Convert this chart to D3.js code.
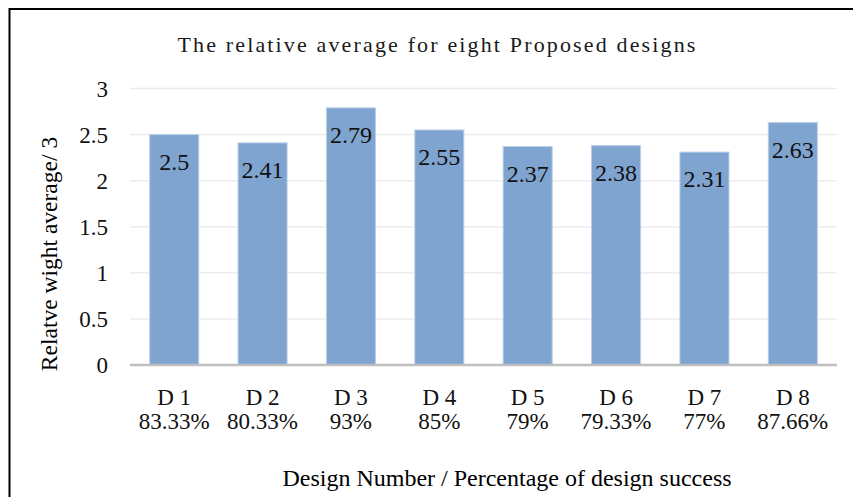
<!DOCTYPE html>
<html>
<head>
<meta charset="utf-8">
<script src="https://cdn.jsdelivr.net/npm/d3@7"></script>
<style>
  html, body { margin: 0; padding: 0; background: #fff; }
  svg { display: block; font-family: "Liberation Serif", "Times New Roman", serif; }
</style>
</head>
<body>
<svg id="chart"></svg>
<script>
const designs = ["D 1", "D 2", "D 3", "D 4", "D 5", "D 6", "D 7", "D 8"];
const successRates = ["83.33%", "80.33%", "93%", "85%", "79%", "79.33%", "77%", "87.66%"];
const averages = [2.5, 2.41, 2.79, 2.55, 2.37, 2.38, 2.31, 2.63];
const yTicks = [0, 0.5, 1, 1.5, 2, 2.5, 3];

const width = 853, height = 497;
const plotLeft = 130, plotRight = 837, plotTop = 88.5, plotBottom = 365;

const svg = d3.select("#chart").attr("width", width).attr("height", height);

// outer frame, cut off at right and bottom like the picture
svg.append("rect")
    .attr("x", 9.5).attr("y", 9)
    .attr("width", 900).attr("height", 600)
    .attr("fill", "none")
    .attr("stroke", "#000")
    .attr("stroke-width", 2);

const x = d3.scaleBand()
    .domain(designs)
    .range([plotLeft, plotRight])
    .paddingInner(0.445)
    .paddingOuter(0.2225);

const y = d3.scaleLinear().domain([0, 3]).range([plotBottom, plotTop]);

// grid lines
svg.append("g")
    .selectAll("line")
    .data(yTicks.filter(d => d > 0))
    .join("line")
    .attr("x1", plotLeft).attr("x2", plotRight)
    .attr("y1", d => y(d)).attr("y2", d => y(d))
    .attr("stroke", "#ececec")
    .attr("stroke-width", 1.5);

// y tick labels
svg.append("g")
    .selectAll("text")
    .data(yTicks)
    .join("text")
    .attr("x", 108)
    .attr("y", d => y(d))
    .attr("dy", "0.35em")
    .attr("text-anchor", "end")
    .attr("font-size", 23)
    .attr("fill", "#111")
    .text(d => d3.format("~g")(d));

// bars
svg.append("g")
    .selectAll("rect")
    .data(averages)
    .join("rect")
    .attr("x", (d, i) => x(designs[i]))
    .attr("y", d => y(d))
    .attr("width", x.bandwidth())
    .attr("height", d => y(0) - y(d))
    .attr("fill", "#7fa4d0")
    .attr("stroke", "#b9cfe8")
    .attr("stroke-width", 1);

// value labels inside the bar top
svg.append("g")
    .selectAll("text")
    .data(averages)
    .join("text")
    .attr("x", (d, i) => x(designs[i]) + x.bandwidth() / 2)
    .attr("y", d => y(d) + 35)
    .attr("text-anchor", "middle")
    .attr("font-size", 24)
    .attr("fill", "#111")
    .text(d => d);

// baseline
svg.append("line")
    .attr("x1", plotLeft).attr("x2", plotRight)
    .attr("y1", y(0)).attr("y2", y(0))
    .attr("stroke", "#bfbfbf")
    .attr("stroke-width", 2.5);

// category labels, two lines each
const cats = svg.append("g")
    .selectAll("text")
    .data(designs)
    .join("text")
    .attr("text-anchor", "middle")
    .attr("font-size", 23)
    .attr("fill", "#111");

cats.append("tspan")
    .attr("x", d => x(d) + x.bandwidth() / 2)
    .attr("y", 405)
    .text(d => d);

cats.append("tspan")
    .attr("x", d => x(d) + x.bandwidth() / 2)
    .attr("y", 429)
    .text((d, i) => successRates[i]);

// title
svg.append("text")
    .attr("x", 437.5)
    .attr("y", 52)
    .attr("text-anchor", "middle")
    .attr("font-size", 22)
    .attr("letter-spacing", 2.15)
    .attr("fill", "#1a1a1a")
    .text("The relative average for eight Proposed designs");

// axis titles
svg.append("text")
    .attr("x", 507)
    .attr("y", 486)
    .attr("text-anchor", "middle")
    .attr("font-size", 24)
    .attr("fill", "#000")
    .text("Design Number / Percentage of design success");

svg.append("text")
    .attr("transform", "translate(57,254) rotate(-90)")
    .attr("text-anchor", "middle")
    .attr("font-size", 23.5)
    .attr("fill", "#000")
    .text("Relatve wight average/ 3");
</script>
</body>
</html>
